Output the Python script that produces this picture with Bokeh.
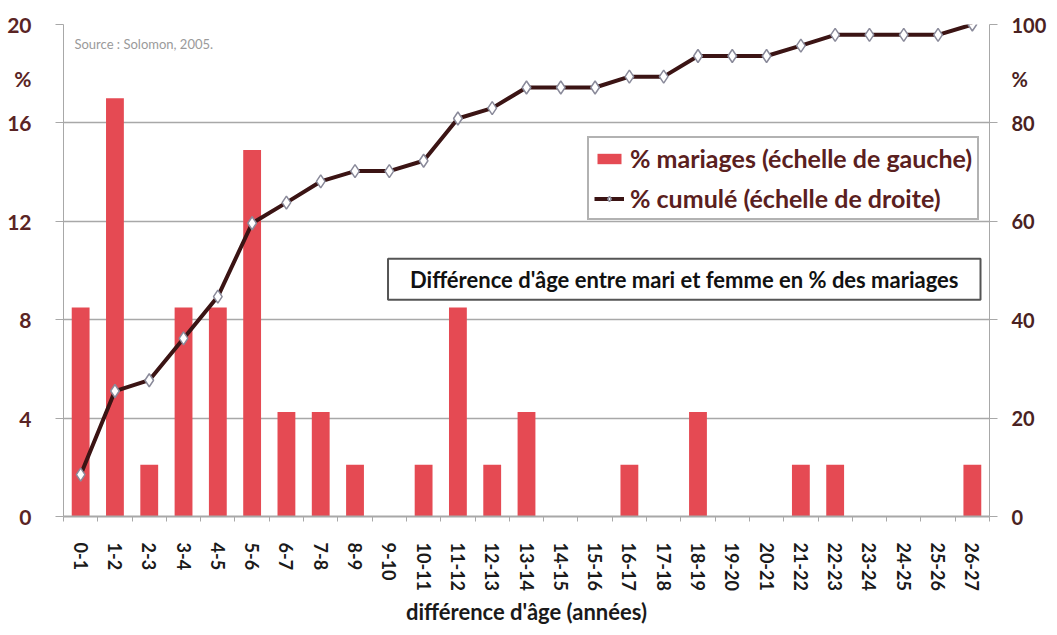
from bokeh.plotting import figure
from bokeh.models import (Range1d, LinearAxis, FixedTicker, Label, Legend, LegendItem,
                          ColumnDataSource)
from bokeh.embed import file_html
from bokeh.resources import INLINE

categories = ["0-1", "1-2", "2-3", "3-4", "4-5", "5-6", "6-7", "7-8", "8-9", "9-10",
              "10-11", "11-12", "12-13", "13-14", "14-15", "15-16", "16-17", "17-18",
              "18-19", "19-20", "20-21", "21-22", "22-23", "23-24", "24-25", "25-26", "26-27"]
pct_mariages = [8.5, 17.0, 2.1, 8.5, 8.5, 14.9, 4.25, 4.25, 2.1, 0.0,
                2.1, 8.5, 2.1, 4.25, 0.0, 0.0, 2.1, 0.0,
                4.25, 0.0, 0.0, 2.1, 2.1, 0.0, 0.0, 0.0, 2.1]
pct_cumule = [8.5, 25.5, 27.7, 36.2, 44.7, 59.6, 63.8, 68.1, 70.2, 70.2,
              72.3, 80.9, 83.0, 87.2, 87.2, 87.2, 89.4, 89.4,
              93.6, 93.6, 93.6, 95.7, 97.9, 97.9, 97.9, 97.9, 100.0]
left_ticks = [0, 4, 8, 12, 16, 20]
right_ticks = [0, 20, 40, 60, 80, 100]
left_unit_pos = 17.8
right_unit_pos = 89.0

FONT = "Lato"
DARK = "#4a2222"
GRID = "#a8a8a8"

xs = list(range(len(categories)))
src = ColumnDataSource(dict(x=xs, bar=pct_mariages, cum=pct_cumule))

p = figure(width=1049, height=627, output_backend="svg", toolbar_location=None,
           x_range=Range1d(-0.5, len(categories) - 0.5), y_range=Range1d(0, 20),
           min_border_left=63, min_border_right=59, min_border_top=24, min_border_bottom=107)
p.outline_line_color = None
p.background_fill_color = "white"
p.extra_y_ranges = {"right": Range1d(0, 100)}

# bars
bars = p.vbar(x="x", top="bar", width=0.52, source=src, fill_color="#e54a53",
              line_color=None)
# cumulative line
line = p.line(x="x", y="cum", source=src, y_range_name="right", line_color="#3b1414",
              line_width=4)
pts = p.scatter(x="x", y="cum", source=src, y_range_name="right", marker="diamond",
                size=13, fill_color="white", line_color="#8a8a9a", line_width=1.5)

# x axis
p.xaxis.ticker = FixedTicker(ticks=xs, minor_ticks=[i + 0.5 for i in range(-1, len(xs))])
p.xaxis.major_label_overrides = {i: c for i, c in enumerate(categories)}
p.xaxis.major_label_orientation = "vertical"
p.xaxis.major_tick_out = 0
p.xaxis.major_tick_in = 0
p.xaxis.minor_tick_out = 5
p.xaxis.minor_tick_in = 0
p.xaxis.minor_tick_line_color = GRID
p.xaxis.axis_line_color = GRID
p.xaxis.axis_line_width = 2
p.xaxis.major_label_text_font = FONT
p.xaxis.major_label_text_font_style = "bold"
p.xaxis.major_label_text_font_size = "18px"
p.xaxis.major_label_text_color = "#1a1a1a"
p.xaxis.major_label_standoff = 21
p.xaxis.axis_label = "différence d'âge (années)"
p.xaxis.axis_label_text_font = FONT
p.xaxis.axis_label_text_font_style = "bold"
p.xaxis.axis_label_text_font_size = "22px"
p.xaxis.axis_label_text_color = "#1a1a1a"
p.xaxis.axis_label_standoff = 4

# left axis (with "%" unit label as an extra, tick-less label)
p.yaxis.ticker = FixedTicker(ticks=left_ticks + [left_unit_pos], minor_ticks=left_ticks)
p.yaxis.major_label_overrides = {left_unit_pos: "%"}
p.yaxis.major_tick_out = 0
p.yaxis.major_tick_in = 0
p.yaxis.minor_tick_out = 8
p.yaxis.minor_tick_in = 0
p.yaxis.minor_tick_line_color = GRID
p.yaxis.axis_line_color = GRID
p.yaxis.major_label_standoff = 24
p.yaxis.major_label_text_font = FONT
p.yaxis.major_label_text_font_style = "bold"
p.yaxis.major_label_text_font_size = "21px"
p.yaxis.major_label_text_color = "#5a2424"

raxis = LinearAxis(y_range_name="right",
                   ticker=FixedTicker(ticks=right_ticks + [right_unit_pos], minor_ticks=right_ticks))
raxis.major_label_overrides = {right_unit_pos: "%"}
raxis.major_tick_out = 0
raxis.major_tick_in = 0
raxis.minor_tick_out = 8
raxis.minor_tick_in = 0
raxis.minor_tick_line_color = GRID
raxis.axis_line_color = GRID
raxis.major_label_standoff = 14
raxis.major_label_text_font = FONT
raxis.major_label_text_font_style = "bold"
raxis.major_label_text_font_size = "20px"
raxis.major_label_text_color = DARK
p.add_layout(raxis, "right")

p.xgrid.grid_line_color = None
p.ygrid.ticker = FixedTicker(ticks=left_ticks)
p.ygrid.grid_line_color = GRID
p.ygrid.grid_line_width = 1.5

# source note
p.add_layout(Label(x=-0.18, y=19.2, text="Source : Solomon, 2005.", text_align="left",
                   text_baseline="middle", text_font=FONT, text_font_size="13px",
                   text_color="#9a9a9a"))

# title box
p.add_layout(Label(x=17.6, y=9.64, text="Différence d'âge entre mari et femme en % des mariages",
                   text_align="center", text_baseline="middle", text_font=FONT,
                   text_font_style="bold", text_font_size="22px", text_color="#111111",
                   border_line_color="#555555", border_line_width=2,
                   background_fill_color="white", padding=(22, 7)))

legend = Legend(items=[LegendItem(label="% mariages (échelle de gauche)", renderers=[bars]),
                       LegendItem(label="% cumulé (échelle de droite)", renderers=[line, pts])],
                location=(524, 296), orientation="vertical")
legend.label_text_font = FONT
legend.label_text_font_style = "bold"
legend.label_text_font_size = "25px"
legend.label_text_color = "#5a2020"
legend.border_line_color = "#666666"
legend.border_line_width = 2
legend.glyph_width = 30
legend.glyph_height = 13
legend.label_height = 30
legend.label_standoff = 6
legend.spacing = 10
legend.padding = 5
legend.margin = 0
legend.background_fill_alpha = 1
p.add_layout(legend, "center")

open("out.html", "w").write(file_html(p, INLINE))
